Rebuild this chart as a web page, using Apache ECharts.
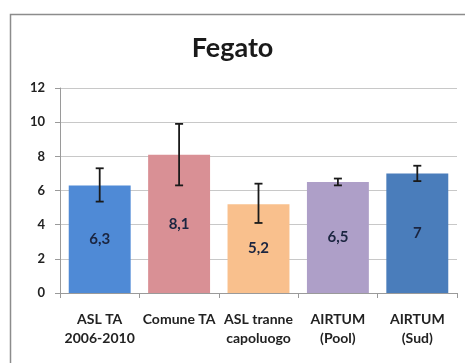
<!DOCTYPE html>
<html>
<head>
<meta charset="utf-8">
<script src="https://cdn.jsdelivr.net/npm/echarts@6/dist/echarts.min.js"></script>
<style>html,body{margin:0;padding:0;background:#fff;}#c{width:465px;height:363px;}</style>
</head>
<body>
<div id="c"></div>
<script>
var categories = ['ASL TA\n2006-2010', 'Comune TA', 'ASL tranne\ncapoluogo', 'AIRTUM\n(Pool)', 'AIRTUM\n(Sud)'];
var values = [6.3, 8.1, 5.2, 6.5, 7];
var valueLabels = ['6,3', '8,1', '5,2', '6,5', '7'];
var errLow = [5.35, 6.3, 4.1, 6.3, 6.55];
var errHigh = [7.3, 9.9, 6.4, 6.7, 7.45];
var colors = ['#4f8ad6', '#d99095', '#f9c08d', '#ae9fc8', '#4a7dbb'];
var yTicks = [0, 2, 4, 6, 8, 10, 12];

var FONT = 'Lato, "Open Sans", sans-serif';
var chart = echarts.init(document.getElementById('c'));
var option = {
  animation: false,
  backgroundColor: '#fff',
  graphic: [{
    type: 'rect', left: 8, top: 12, z: -1,
    shape: { width: 470, height: 350 },
    style: { fill: 'none', stroke: '#8c8c8c', lineWidth: 1.5 }
  }],
  title: {
    text: 'Fegato', left: 'center', top: 30,
    textStyle: { fontFamily: FONT, fontSize: 27, fontWeight: 'bold', color: '#1a1a1a' }
  },
  grid: { left: 60, right: 8, top: 88, bottom: 70 },
  xAxis: {
    type: 'category',
    data: categories,
    axisLine: { lineStyle: { color: '#9a9a9a' } },
    axisTick: { show: true, length: 5, lineStyle: { color: '#9a9a9a' } },
    axisLabel: {
      interval: 0, margin: 17, lineHeight: 19,
      fontFamily: FONT, fontSize: 14, fontWeight: 'bold', color: '#222'
    }
  },
  yAxis: {
    type: 'value', min: 0, max: 12, interval: 2,
    axisLine: { show: true, lineStyle: { color: '#9a9a9a' } },
    axisTick: { show: true, length: 5, lineStyle: { color: '#9a9a9a' } },
    splitLine: { lineStyle: { color: '#c8c8c8' } },
    axisLabel: {
      margin: 15, fontFamily: FONT, fontSize: 13, fontWeight: 'bold', color: '#222',
      formatter: function (v) { return yTicks.indexOf(v) >= 0 ? String(v) : ''; }
    }
  },
  series: [{
    type: 'bar',
    barWidth: '78%',
    data: values.map(function (v, i) {
      return { value: v, itemStyle: { color: colors[i] } };
    }),
    label: {
      show: true, position: 'inside',
      fontFamily: FONT, fontSize: 15, fontWeight: 'bold', color: '#1b2540',
      formatter: function (p) { return valueLabels[p.dataIndex]; }
    }
  }, {
    type: 'custom',
    z: 10,
    data: errLow.map(function (lo, i) { return [i, lo, errHigh[i]]; }),
    renderItem: function (params, api) {
      var x = api.value(0);
      var lo = api.coord([x, api.value(1)]);
      var hi = api.coord([x, api.value(2)]);
      var cw = 4;
      var st = { stroke: '#1a1a1a', lineWidth: 1.8 };
      return {
        type: 'group',
        children: [
          { type: 'line', shape: { x1: lo[0], y1: lo[1], x2: hi[0], y2: hi[1] }, style: st },
          { type: 'line', shape: { x1: lo[0] - cw, y1: lo[1], x2: lo[0] + cw, y2: lo[1] }, style: st },
          { type: 'line', shape: { x1: hi[0] - cw, y1: hi[1], x2: hi[0] + cw, y2: hi[1] }, style: st }
        ]
      };
    }
  }]
};
chart.setOption(option);
</script>
</body>
</html>
